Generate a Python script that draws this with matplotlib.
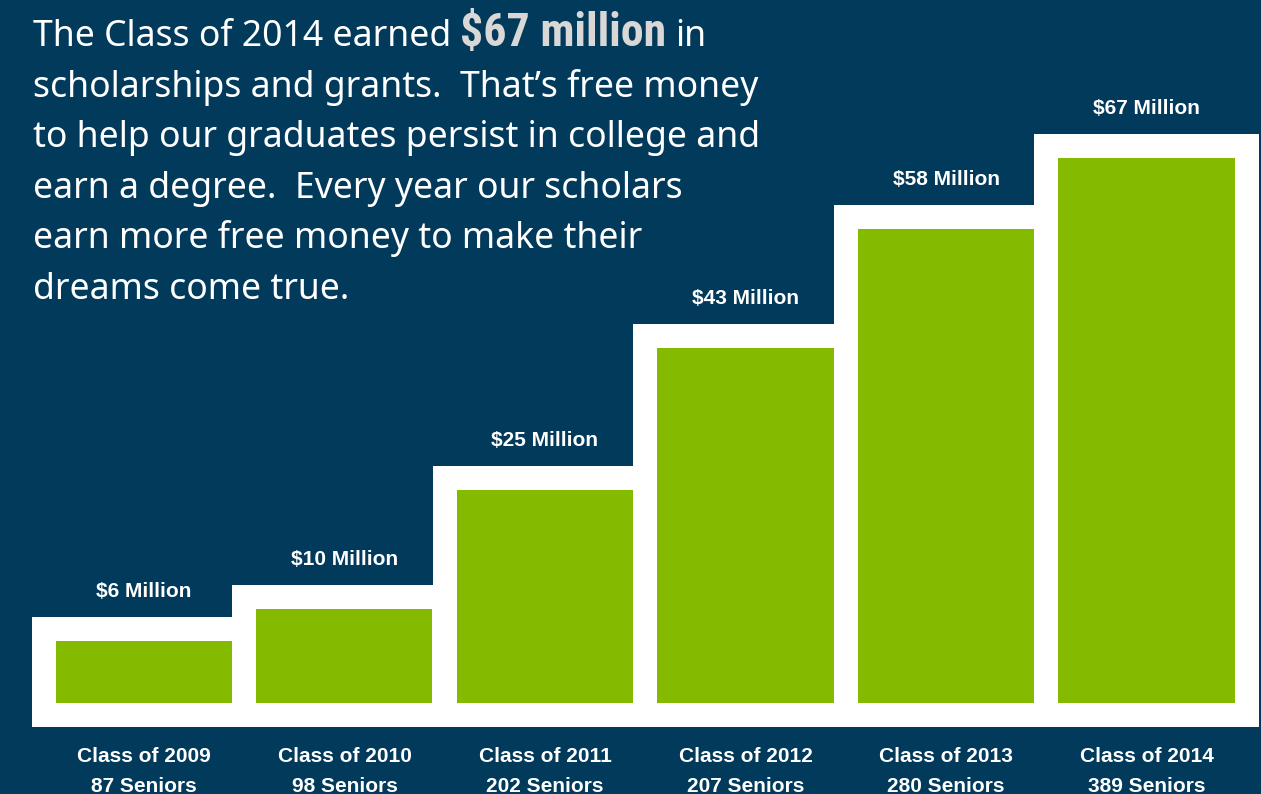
import numpy as np
import matplotlib.pyplot as plt
from matplotlib import font_manager

# data
classes = ["Class of 2009", "Class of 2010", "Class of 2011",
           "Class of 2012", "Class of 2013", "Class of 2014"]
seniors = [87, 98, 202, 207, 280, 389]
amounts = [6, 10, 25, 43, 58, 67]  # $ million

navy = "#023A5C"
green = "#84BB00"
white = "#FFFFFF"

# layout (data units: x = bar index, y = $ million)
base = 1.83      # green bars start a little below zero
border_y = 3.03  # white frame thickness in y units
border_x = 0.12  # white frame thickness in x units
bar_w = 0.878

fig = plt.figure(figsize=(12.61, 7.94), dpi=100, facecolor=navy)
ax = fig.add_axes([0, 0, 1, 1])
ax.set_facecolor(navy)
ax.set_xlim(-0.718, 5.571)
ax.set_ylim(-13.32, 86.93)
ax.axis("off")

x = np.arange(len(amounts))
vals = np.array(amounts, dtype=float)

# white frames first, then green bars on top
ax.bar(x, vals + base + 2 * border_y, bottom=-base - border_y,
       width=bar_w + 2 * border_x, color=white, zorder=1, linewidth=0)
ax.bar(x, vals + base, bottom=-base, width=bar_w, color=green,
       zorder=2, linewidth=0)

lab_font = ["Liberation Sans", "DejaVu Sans"]

# value labels above each frame
for xi, v in zip(x, vals):
    ax.annotate(f"${int(v)} Million", xy=(xi, v + border_y),
                xytext=(0, 14.5), textcoords="offset points",
                ha="center", va="baseline", color=white,
                fontsize=15, fontweight="bold", family=lab_font)

# class labels under the bars
xt = ax.get_xaxis_transform()
for xi, c, s in zip(x, classes, seniors):
    ax.text(xi, 1 - 762 / 794, c, transform=xt, ha="center", va="baseline",
            color=white, fontsize=15, fontweight="bold", family=lab_font)
    ax.text(xi, 1 - 792 / 794, f"{s} Seniors", transform=xt, ha="center",
            va="baseline", color=white, fontsize=15, fontweight="bold",
            family=lab_font)

# headline paragraph
W, H = 1261, 794
para_font = ["Noto Sans", "DejaVu Sans"]
para_size = 25.6
lines = ["scholarships and grants.  That\u2019s free money",
         "to help our graduates persist in college and",
         "earn a degree.  Every year our scholars",
         "earn more free money to make their",
         "dreams come true."]
x0 = 33 / W
y_first = 46
step = 50.6

# condensed bold face for the big number, if one is installed
installed = {f.name for f in font_manager.fontManager.ttflist}
big_font, big_size = ["DejaVu Sans"], 24
for name, size in [("Roboto Condensed", 33), ("Liberation Sans Narrow", 35),
                   ("Open Sans Condensed", 36)]:
    if name in installed:
        big_font, big_size = [name, "DejaVu Sans"], size
        break

fig.canvas.draw()
renderer = fig.canvas.get_renderer()
t1 = fig.text(x0, 1 - y_first / H, "The Class of 2014 earned",
              color=white, fontsize=para_size, family=para_font, va="baseline")
bb = t1.get_window_extent(renderer)
t2 = fig.text((bb.x1 + 9) / W, 1 - y_first / H, "$67 million",
              color="#D9D8D6", fontsize=big_size, fontweight="bold",
              family=big_font, va="baseline")
bb = t2.get_window_extent(renderer)
fig.text((bb.x1 + 9) / W, 1 - y_first / H, "in",
         color=white, fontsize=para_size, family=para_font, va="baseline")

for i, ln in enumerate(lines, start=1):
    fig.text(x0, 1 - (y_first + i * step) / H, ln, color=white,
             fontsize=para_size, family=para_font, va="baseline")

plt.savefig("out.png", dpi=100, facecolor=navy)
